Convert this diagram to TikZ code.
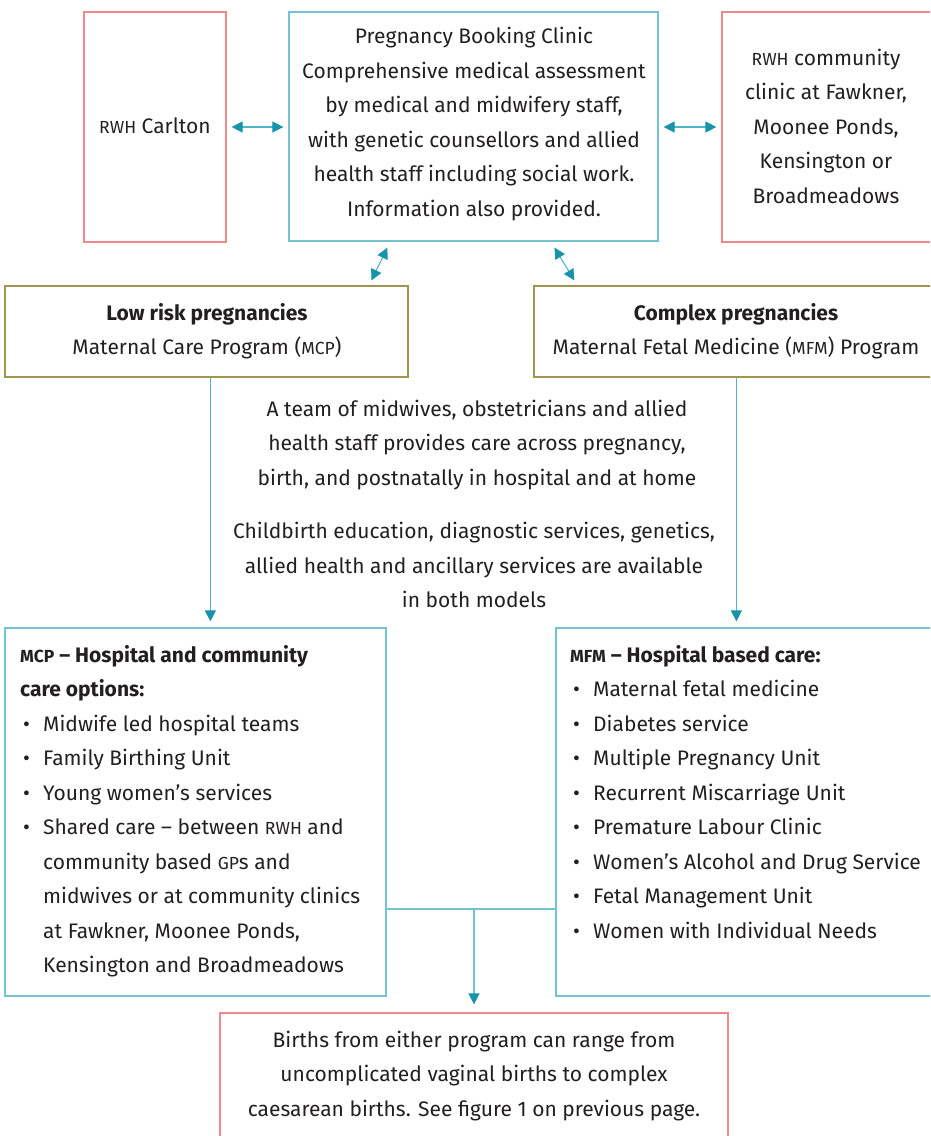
\documentclass[tikz,border=0pt]{standalone}
\usepackage{fontspec}
\setmainfont{Fira Sans}
\usetikzlibrary{arrows.meta}
\definecolor{txt}{HTML}{231F20}
\definecolor{redb}{HTML}{F08A8A}
\definecolor{tealb}{HTML}{72C4D3}
\definecolor{tealline}{HTML}{4FB4C7}
\definecolor{tealhead}{HTML}{1794AB}
\definecolor{oliveb}{HTML}{A0944E}
\newcommand\sC[1]{{\fontsize{17.5pt}{17.5pt}\selectfont #1}}
\newcommand\bul{\makebox[23pt][l]{\hspace{3pt}•}}
\begin{document}
\begin{tikzpicture}[x=1pt,y=-1pt,
  every node/.style={text=txt,font=\fontsize{21pt}{34.5pt}\selectfont},
  boxr/.style={draw=redb,line width=1.2pt,inner sep=0pt},
  boxt/.style={draw=tealb,line width=1.2pt,inner sep=0pt},
  boxo/.style={draw=oliveb,line width=1.2pt,inner sep=0pt},
  lbl/.style={align=center,inner sep=0pt},
  dbl/.style={draw=tealline,line width=1.1pt,{Triangle[length=11pt,width=11pt,color=tealhead]}-{Triangle[length=11pt,width=11pt,color=tealhead]}},
  one/.style={draw=tealline,line width=1.1pt,-{Triangle[length=11pt,width=11pt,color=tealhead]}},
  link/.style={draw=tealb,line width=1.2pt}]
\useasboundingbox (0,0) rectangle (930,1136);
\clip (0,0) rectangle (930,1136);
% boxes
\node[boxr,minimum width=142pt,minimum height=230pt] (carlton) at (155,127) {};
\node[boxt,minimum width=369pt,minimum height=229pt] (clinic) at (473.5,126.5) {};
\node[boxr,minimum width=230pt,minimum height=230pt] (community) at (837,127) {};
\node[boxo,minimum width=403pt,minimum height=91pt] (lowrisk) at (206.5,331.5) {};
\node[boxo,minimum width=410pt,minimum height=91pt] (complex) at (739,331.5) {};
\node[boxt,minimum width=381pt,minimum height=368pt] (mcp) at (195.5,812) {};
\node[boxt,minimum width=390pt,minimum height=368pt] (mfm) at (751,812) {};
\node[boxr,minimum width=508pt,minimum height=140pt] (births) at (474,1083) {};
% texts
\node[lbl] (tcarlton) at (155,126) {\sC{RWH} Carlton};
\node[lbl] (tclinic) at (474,124) {Pregnancy Booking Clinic\\Comprehensive medical assessment\\by medical and midwifery staff,\\with genetic counsellors and allied\\health staff including social work.\\Information also provided.};
\node[lbl] (tcommunity) at (826,126) {\sC{RWH} community\\clinic at Fawkner,\\Moonee Ponds,\\Kensington or\\Broadmeadows};
\node[lbl] (tlowrisk) at (207,331) {\textbf{Low risk pregnancies}\\Maternal Care Program (\sC{MCP})};
\node[lbl] (tcomplex) at (736,331) {\textbf{Complex pregnancies}\\Maternal Fetal Medicine (\sC{MFM}) Program};
\node[lbl] (tteam) at (477,445) {A team of midwives, obstetricians and allied\\health staff provides care across pregnancy,\\birth, and postnatally in hospital and at home};
\node[lbl] (tedu) at (474,565) {Childbirth education, diagnostic services, genetics,\\allied health and ancillary services are available\\in both models};
\node[lbl,align=left,anchor=north west] (tmcp) at (20,645) {\textbf{\sC{MCP} – Hospital and community}\\\textbf{care options:}\\\bul Midwife led hospital teams\\\bul Family Birthing Unit\\\bul Young women’s services\\\bul Shared care – between \sC{RWH} and\\\hspace*{23pt}community based \sC{GP}s and\\\hspace*{23pt}midwives or at community clinics\\\hspace*{23pt}at Fawkner, Moonee Ponds,\\\hspace*{23pt}Kensington and Broadmeadows};
\node[lbl,align=left,anchor=north west] (tmfm) at (570,645) {\textbf{\sC{MFM} – Hospital based care:}\\\bul Maternal fetal medicine\\\bul Diabetes service\\\bul Multiple Pregnancy Unit\\\bul Recurrent Miscarriage Unit\\\bul Premature Labour Clinic\\\bul Women’s Alcohol and Drug Service\\\bul Fetal Management Unit\\\bul Women with Individual Needs};
\node[lbl] (tbirths) at (474,1076) {Births from either program can range from\\uncomplicated vaginal births to complex\\caesarean births. See figure 1 on previous page.};
% connectors
\draw[dbl,shorten <=5pt,shorten >=5pt] (carlton.east) -- (carlton.east -| clinic.west);
\draw[dbl,shorten <=5pt,shorten >=5pt] (clinic.east |- community.west) -- (community.west);
\draw[dbl] ([xshift=99pt,yshift=-6pt]clinic.south west) -- ([xshift=367pt,yshift=5pt]lowrisk.north west);
\draw[dbl] ([xshift=266pt,yshift=-6pt]clinic.south west) -- ([xshift=41pt,yshift=5pt]complex.north west);
\draw[one] ([xshift=206pt]lowrisk.south west) -- ([xshift=206pt,yshift=6pt]mcp.north west);
\draw[one] ([xshift=203pt]complex.south west) -- ([xshift=181pt,yshift=6pt]mfm.north west);
\coordinate (j) at (474,909);
\draw[link] (mcp.east |- j) -- (mfm.west |- j);
\draw[one,draw=tealb] (j) -- ([yshift=8pt]births.north);
\end{tikzpicture}
\end{document}
